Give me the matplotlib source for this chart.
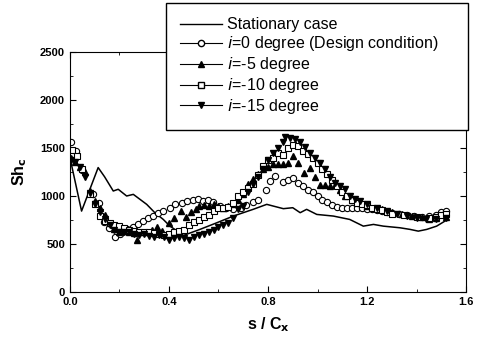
import matplotlib
matplotlib.use("Agg")
import matplotlib.pyplot as plt
from matplotlib.ticker import MultipleLocator, FormatStrFormatter
from matplotlib.lines import Line2D

plt.rcParams['font.family'] = ['Liberation Sans', 'DejaVu Sans']

# stationary case (solid line)
s_stat = [0.0, 0.047, 0.114, 0.14, 0.175, 0.195, 0.229, 0.256, 0.283, 0.31, 0.343, 0.377,
          0.404, 0.444, 0.47, 0.525, 0.593, 0.66, 0.74, 0.795, 0.82, 0.862, 0.9, 0.93,
          0.956, 0.997, 1.064, 1.13, 1.185, 1.226, 1.266, 1.333, 1.374, 1.407, 1.441,
          1.481, 1.515]
sh_stat = [1400, 843, 1296, 1200, 1052, 1070, 1000, 1017, 965, 913, 826, 756,
           686, 617, 600, 652, 721, 791, 861, 913, 896, 868, 878, 826,
           861, 808, 791, 756, 686, 704, 686, 669, 652, 634, 652,
           686, 739]

# i = 0 degree (design condition)
s_i0 = [0.004, 0.024, 0.047, 0.094, 0.117, 0.137, 0.158, 0.182, 0.202, 0.229, 0.256,
        0.276, 0.296, 0.316, 0.337, 0.357, 0.377, 0.404, 0.424, 0.451, 0.471, 0.498,
        0.519, 0.539, 0.559, 0.579, 0.606, 0.63, 0.66, 0.69, 0.71, 0.74, 0.76, 0.79,
        0.81, 0.83, 0.86, 0.88, 0.9, 0.92, 0.94, 0.96, 0.98, 1.0, 1.02, 1.04, 1.06,
        1.08, 1.1, 1.12, 1.14, 1.16, 1.18, 1.2, 1.22, 1.24, 1.26, 1.28, 1.3, 1.33,
        1.36, 1.39, 1.42, 1.45, 1.48, 1.5, 1.52]
sh_i0 = [1564, 1470, 1272, 1017, 930, 728, 669, 575, 600, 652, 676,
         704, 739, 766, 791, 819, 843, 878, 913, 923, 948, 958,
         965, 948, 955, 937, 895, 880, 860, 880, 910, 940, 958, 1060,
         1160, 1210, 1150, 1170, 1190, 1140, 1100, 1060, 1040, 1000, 960, 935, 910,
         890, 880, 875, 870, 880, 870, 865, 860, 855, 840, 830, 820, 810,
         800, 790, 780, 790, 800, 830, 840]

# i = -5 degree
s_i5 = [0.005, 0.02, 0.04, 0.06, 0.08, 0.1, 0.12, 0.14, 0.16, 0.18, 0.2, 0.22, 0.24,
        0.26, 0.27, 0.29, 0.31, 0.33, 0.35, 0.37, 0.4, 0.42, 0.45, 0.47, 0.49, 0.51,
        0.52, 0.54, 0.56, 0.58, 0.6, 0.62, 0.64, 0.66, 0.68, 0.7, 0.72, 0.74, 0.76,
        0.78, 0.8, 0.82, 0.84, 0.86, 0.88, 0.9, 0.92, 0.945, 0.97, 0.99, 1.01, 1.03,
        1.05, 1.07, 1.09, 1.11, 1.14, 1.17, 1.2, 1.23, 1.26, 1.3, 1.34, 1.38, 1.42,
        1.45, 1.48, 1.52]
sh_i5 = [1400, 1350, 1300, 1250, 1050, 950, 870, 800, 720, 660, 620, 640, 630,
         610, 540, 620, 630, 650, 680, 640, 720, 770, 840, 780, 830, 860,
         900, 910, 900, 920, 900, 880, 900, 920, 960, 1020, 1120, 1180, 1230,
         1279, 1300, 1330, 1330, 1330, 1348, 1418, 1348, 1244, 1296, 1200, 1110, 1110,
         1100, 1110, 1060, 1000, 960, 930, 900, 880, 860, 830, 810, 790, 780,
         760, 770, 780]

# i = -10 degree
s_i10 = [0.01, 0.03, 0.05, 0.08, 0.1, 0.12, 0.14, 0.16, 0.18, 0.2, 0.22, 0.24, 0.26,
         0.28, 0.3, 0.32, 0.34, 0.36, 0.38, 0.4, 0.42, 0.44, 0.46, 0.48, 0.5, 0.52,
         0.54, 0.56, 0.58, 0.6, 0.62, 0.64, 0.66, 0.68, 0.7, 0.72, 0.74, 0.76, 0.78,
         0.8, 0.82, 0.84, 0.86, 0.88, 0.9, 0.92, 0.94, 0.96, 0.98, 1.0, 1.02, 1.04,
         1.06, 1.08, 1.1, 1.12, 1.14, 1.16, 1.18, 1.2, 1.22, 1.24, 1.26, 1.28, 1.3,
         1.35, 1.4, 1.45, 1.48, 1.5, 1.52]
sh_i10 = [1480, 1420, 1280, 1020, 920, 790, 740, 720, 700, 690, 670, 650, 640,
          620, 630, 620, 610, 600, 590, 600, 620, 640, 650, 700, 730, 750,
          780, 800, 840, 870, 880, 890, 930, 1000, 1040, 1080, 1130, 1220, 1310,
          1380, 1400, 1450, 1430, 1500, 1530, 1520, 1470, 1440, 1400, 1340, 1280, 1230,
          1170, 1100, 1040, 1000, 960, 930, 920, 910, 880, 860, 850, 830, 810,
          800, 780, 770, 780, 800, 810]

# i = -15 degree
s_i15 = [0.005, 0.02, 0.04, 0.06, 0.08, 0.1, 0.12, 0.14, 0.16, 0.18, 0.2, 0.22, 0.24,
         0.26, 0.28, 0.3, 0.32, 0.34, 0.36, 0.38, 0.4, 0.42, 0.44, 0.46, 0.48, 0.5,
         0.52, 0.54, 0.56, 0.58, 0.6, 0.62, 0.64, 0.66, 0.68, 0.7, 0.72, 0.74, 0.76,
         0.78, 0.8, 0.82, 0.84, 0.86, 0.87, 0.89, 0.91, 0.93, 0.95, 0.97, 0.99, 1.01,
         1.03, 1.05, 1.07, 1.09, 1.11, 1.13, 1.15, 1.17, 1.2, 1.24, 1.28, 1.32, 1.36,
         1.4, 1.44, 1.48, 1.52]
sh_i15 = [1380, 1350, 1300, 1200, 1030, 920, 830, 760, 700, 650, 620, 630, 620,
          600, 590, 600, 580, 570, 590, 570, 540, 560, 570, 560, 540, 570,
          590, 600, 620, 650, 680, 700, 720, 770, 860, 900, 1040, 1120, 1200,
          1280, 1380, 1450, 1500, 1560, 1610, 1600, 1590, 1560, 1510, 1450, 1400, 1340,
          1280, 1200, 1140, 1100, 1070, 1000, 970, 950, 920, 880, 840, 810, 790,
          770, 760, 760, 770]

fig = plt.figure(figsize=(4.79, 3.41), dpi=100)
ax = fig.add_axes([0.146, 0.1437, 0.827, 0.7038])

ms = 4.5
ax.plot(s_stat, sh_stat, '-', color='black', lw=1.1, label='Stationary case')
ax.plot(s_i0, sh_i0, 'o', mfc='white', mec='black', mew=0.8, ms=ms,
        label='$i$=0 degree (Design condition)')
ax.plot(s_i5, sh_i5, '^', mfc='black', mec='black', ms=ms, label='$i$=-5 degree')
ax.plot(s_i10, sh_i10, 's', mfc='white', mec='black', mew=0.8, ms=ms,
        label='$i$=-10 degree')
ax.plot(s_i15, sh_i15, 'v', mfc='black', mec='black', ms=ms, label='$i$=-15 degree')

ax.set_xlim(0, 1.6)
ax.set_ylim(0, 2500)
ax.xaxis.set_major_locator(MultipleLocator(0.4))
ax.xaxis.set_minor_locator(MultipleLocator(0.2))
ax.yaxis.set_major_locator(MultipleLocator(500))
ax.yaxis.set_minor_locator(MultipleLocator(250))
ax.xaxis.set_major_formatter(FormatStrFormatter('%.1f'))
ax.tick_params(which='both', direction='in', top=True, right=True, labelsize=8)
ax.tick_params(which='major', length=4)
ax.tick_params(which='minor', length=2)
for lab in ax.get_xticklabels() + ax.get_yticklabels():
    lab.set_fontweight('bold')

ax.set_xlabel('s / C$_\\mathbf{x}$', fontsize=11.5, fontweight='bold', labelpad=6)
ax.set_ylabel('Sh$_\\mathbf{c}$', fontsize=11.5, fontweight='bold', labelpad=8)

# legend handles show a short line through the marker
handles, labels = ax.get_legend_handles_labels()
leg_handles = [Line2D([], [], color='black', lw=1.0)]
for h in handles[1:]:
    leg_handles.append(Line2D([], [], color='black', lw=0.8, marker=h.get_marker(),
                              mfc=h.get_markerfacecolor(), mec='black', ms=ms))
leg = fig.legend(leg_handles, labels, loc='upper left',
                 bbox_to_anchor=(166 / 479, 1 - 121 / 341, (468 - 166) / 479, 118 / 341),
                 mode='expand', fontsize=11.5, frameon=True, fancybox=False,
                 edgecolor='black', framealpha=1.0, handlelength=2.6, handletextpad=0.3,
                 borderpad=0.9, labelspacing=0.12, borderaxespad=0)
leg.get_frame().set_linewidth(1.0)

fig.savefig('out.png', dpi=100)
